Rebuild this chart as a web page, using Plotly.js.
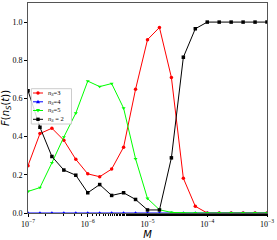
<!DOCTYPE html>
<html><head><meta charset="utf-8">
<script src="https://cdn.plot.ly/plotly-3.0.1.min.js"></script>
<style>body{margin:0;padding:0;background:#fff}#c{width:277px;height:240px}</style>
</head><body><div id="c"></div>
<script>
const exps = [-7,-6.8,-6.6,-6.4,-6.2,-6,-5.8,-5.6,-5.4,-5.2,-5,-4.8,-4.6,-4.4,-4.2,-4,-3.8,-3.6,-3.4,-3.2,-3];
const M = exps.map(e => Math.pow(10, e));
const ns3 = [0.248,0.416,0.444,0.381,0.281,0.205,0.190,0.230,0.345,0.648,0.908,0.972,0.710,0.182,0.035,0,0,0,0,0,0];
const ns4 = [0,0,0,0,0,0,0,0,0,0,0,0,0,0,0,0,0,0,0,0,0];
const ns5 = [0.113,0.133,0.263,0.398,0.523,0.691,0.662,0.678,0.549,0.284,0.076,0.017,0.003,0,0,0,0,0,0,0,0];
const ns2 = [0.641,0.449,0.296,0.225,0.198,0.106,0.149,0.092,0.106,0.071,0.016,0.016,0.289,0.816,0.965,1,1,1,1,1,1];
const names = ['<i>n<sub>S</sub></i>=3','<i>n<sub>S</sub></i>=4','<i>n<sub>S</sub></i>=5','<i>n<sub>S</sub></i> = 2'];
const colors = ['#ff0000','#0000ff','#00ff00','#000000'];
const symbols = ['circle','triangle-up','triangle-down','square'];
const xTickVals = [1e-7,1e-6,1e-5,1e-4,1e-3];
const xTickText = ['10<sup>−7</sup>','10<sup>−6</sup>','10<sup>−5</sup>','10<sup>−4</sup>','10<sup>−3</sup>'];
const yTickVals = [0,0.2,0.4,0.6,0.8,1.0];
const yTickText = ['0.0','0.2','0.4','0.6','0.8','1.0'];

function tr(y, i){
  return {x: M, y: y, name: names[i], type:'scatter', mode:'lines+markers', showlegend:false,
    line:{color:colors[i], width:1}, marker:{color:colors[i], symbol:symbols[i], size:3.5}};
}
const data = [tr(ns3,0), tr(ns4,1), tr(ns5,2), tr(ns2,3)];

// custom compact legend (layout positions in pixels, converted to paper coords)
const W=277, H=240, mL=28, mR=10, mT=3, mB=27;
const pw = W-mL-mR, ph = H-mT-mB;
const px = v => (v-mL)/pw;
const py = v => (H-mB-v)/ph;
const shapes = [];
const annotations = [];
shapes.push({type:'rect', xref:'paper', yref:'paper', x0:px(31.3), x1:px(71.5), y0:py(124), y1:py(88.7),
  line:{color:'#cccccc', width:1}, fillcolor:'rgba(255,255,255,0.85)', layer:'above'});
const rows = [93, 101.8, 110.5, 119.3];
const r = 1.7;
rows.forEach((yy, i) => {
  const c = colors[i];
  shapes.push({type:'line', xref:'paper', yref:'paper', x0:px(33), x1:px(43), y0:py(yy), y1:py(yy),
    line:{color:c, width:1}, layer:'above'});
  const cx = 38;
  if (symbols[i]==='circle') {
    shapes.push({type:'circle', xref:'paper', yref:'paper', x0:px(cx-r), x1:px(cx+r), y0:py(yy+r), y1:py(yy-r),
      fillcolor:c, line:{color:c, width:0}, layer:'above'});
  } else if (symbols[i]==='square') {
    shapes.push({type:'rect', xref:'paper', yref:'paper', x0:px(cx-r), x1:px(cx+r), y0:py(yy+r), y1:py(yy-r),
      fillcolor:c, line:{color:c, width:0}, layer:'above'});
  } else {
    const up = symbols[i]==='triangle-up';
    const tip = up ? yy-r-0.3 : yy+r+0.3, base = up ? yy+r-0.3 : yy-r+0.3;
    const p = `M ${px(cx)} ${py(tip)} L ${px(cx-r-0.3)} ${py(base)} L ${px(cx+r+0.3)} ${py(base)} Z`;
    shapes.push({type:'path', xref:'paper', yref:'paper', path:p, fillcolor:c, line:{color:c, width:0}, layer:'above'});
  }
  annotations.push({xref:'paper', yref:'paper', x:px(46), y:py(yy), xanchor:'left', yanchor:'middle',
    text:names[i], showarrow:false, font:{family:'Liberation Serif', size:6.5, color:'#000'}});
});

const serif = 'Liberation Serif';
const layout = {
  width:W, height:H,
  margin:{l:mL, r:mR, t:mT, b:mB},
  paper_bgcolor:'#fff', plot_bgcolor:'#fff',
  showlegend:false,
  shapes: shapes, annotations: annotations,
  xaxis:{type:'log', range:[-7,-3], tickvals:xTickVals, ticktext:xTickText,
    ticks:'outside', ticklen:3, tickcolor:'#000', showgrid:false, zeroline:false,
    showline:true, linecolor:'#555', linewidth:1, mirror:true,
    tickfont:{family:serif, size:8, color:'#000'},
    minor:{ticks:'outside', ticklen:1.5, tickcolor:'#000', showgrid:false},
    title:{text:'<i>M</i>', font:{family:'DejaVu Sans', size:10, color:'#000'}, standoff:0}},
  yaxis:{range:[0,1.1], tickvals:yTickVals, ticktext:yTickText,
    ticks:'outside', ticklen:3, tickcolor:'#000', showgrid:false, zeroline:false,
    showline:true, linecolor:'#555', linewidth:1, mirror:true,
    tickfont:{family:serif, size:8, color:'#000'},
    title:{text:'<i>F</i>(<i>n<sub>S</sub></i>(<i>t</i>))', font:{family:'DejaVu Sans', size:10, color:'#000'}, standoff:2}}
};
Plotly.newPlot('c', data, layout, {staticPlot:true, displayModeBar:false});
</script></body></html>
